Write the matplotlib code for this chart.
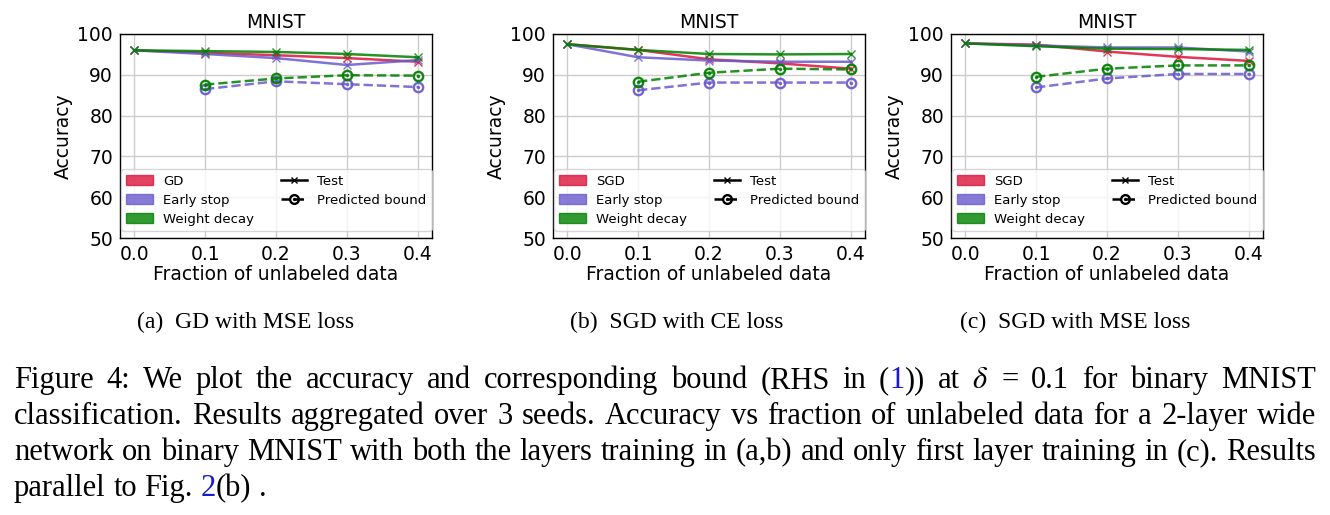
import re
import matplotlib
matplotlib.use('Agg')
import matplotlib.pyplot as plt
from matplotlib.patches import Patch
from matplotlib.lines import Line2D

# Accuracy vs fraction of unlabeled data, binary MNIST, three training setups

fractions = [0.0, 0.1, 0.2, 0.3, 0.4]
bound_fractions = [0.1, 0.2, 0.3, 0.4]

# (a) GD with MSE loss
a_gd_test = [96.0, 95.4, 94.8, 94.1, 93.2]
a_es_test = [96.0, 95.1, 94.1, 92.4, 93.6]
a_wd_test = [96.0, 95.8, 95.6, 95.1, 94.3]
a_es_bound = [86.5, 88.4, 87.7, 87.0]
a_wd_bound = [87.6, 89.1, 89.9, 89.8]

# (b) SGD with CE loss
b_sgd_test = [97.5, 96.1, 93.8, 92.8, 91.5]
b_es_test = [97.5, 94.3, 93.5, 93.2, 93.2]
b_wd_test = [97.5, 96.1, 95.1, 95.0, 95.1]
b_es_bound = [86.2, 88.1, 88.1, 88.1]
b_wd_bound = [88.3, 90.5, 91.5, 91.3]

# (c) SGD with MSE loss
c_sgd_test = [97.7, 97.4, 95.7, 94.4, 93.4]
c_es_test = [97.7, 97.2, 96.7, 96.7, 95.7]
c_wd_test = [97.7, 97.0, 96.4, 96.3, 96.1]
c_es_bound = [86.9, 89.1, 90.2, 90.2]
c_wd_bound = [89.5, 91.5, 92.3, 92.3]

first_names = ['GD', 'SGD', 'SGD']
subcaptions = ['(a)  GD with MSE loss', '(b)  SGD with CE loss', '(c)  SGD with MSE loss']
yticks = [50, 60, 70, 80, 90, 100]
xticks = [0.0, 0.1, 0.2, 0.3, 0.4]

# caption lines, {..} marks a blue reference link
caption = [
    'Figure 4: We plot the accuracy and corresponding bound (RHS in ({1})) at $\\delta$ = 0.1 for binary MNIST',
    'classification. Results aggregated over 3 seeds. Accuracy vs fraction of unlabeled data for a 2-layer wide',
    'network on binary MNIST with both the layers training in (a,b) and only first layer training in (c). Results',
    'parallel to Fig. {2}(b) .',
]

RED = '#dc143c'
PURPLE = '#6a5acd'
GREEN = '#008000'
W, H = 1330, 515


def main():
    plt.rcParams['mathtext.fontset'] = 'stix'
    fig = plt.figure(figsize=(W / 100, H / 100), dpi=100)
    panels = [
        (120, a_gd_test, a_es_test, a_wd_test, a_es_bound, a_wd_bound),
        (553, b_sgd_test, b_es_test, b_wd_test, b_es_bound, b_wd_bound),
        (951, c_sgd_test, c_es_test, c_wd_test, c_es_bound, c_wd_bound),
    ]
    for k, p in enumerate(panels):
        ax = fig.add_axes([p[0] / W, (H - 238) / H, 312 / W, 204 / H])
        makepanel(ax, first_names[k], *p[1:])
    for x, s in zip([246, 677, 1075], subcaptions):
        fig.text(x / W, 1 - 328 / H, s, ha='center', va='baseline',
                 fontsize=17, family='Liberation Serif')
    ys = [388, 424, 460, 496]
    for k, line in enumerate(caption):
        drawline(fig, ys[k], line, 14, 1316, k < 3)
    fig.savefig('out.png', dpi=100)


def makepanel(ax, name, red, purple, green, purple_b, green_b):
    ax.plot(fractions, red, '-', marker='x', color=RED, lw=1.8, ms=6, alpha=0.85)
    ax.plot(fractions, purple, '-', marker='x', color=PURPLE, lw=1.8, ms=6, alpha=0.85)
    ax.plot(fractions, green, '-', marker='x', color=GREEN, lw=1.8, ms=6, alpha=0.85)
    ax.plot(bound_fractions, purple_b, '--', marker='$\\odot$', color=PURPLE, lw=1.8, ms=7.5, alpha=0.85)
    ax.plot(bound_fractions, green_b, '--', marker='$\\odot$', color=GREEN, lw=1.8, ms=7.5, alpha=0.85)
    ax.set_ylim(50, 100)
    ax.set_yticks(yticks)
    ax.set_xticks(xticks)
    ax.set_xticklabels(['%.1f' % v for v in xticks])
    ax.grid(True, color='#cccccc', lw=1)
    ax.set_axisbelow(True)
    ax.tick_params(length=0, pad=5, labelsize=13.5)
    for s in ax.spines.values():
        s.set_color('black')
        s.set_linewidth(1)
    ax.set_title('MNIST', fontsize=13.5, pad=4)
    ax.set_xlabel('Fraction of unlabeled data', fontsize=13.5, labelpad=1)
    ax.set_ylabel('Accuracy', fontsize=13.5, labelpad=3)
    handles = [
        Patch(facecolor=RED, edgecolor=RED, alpha=0.8, label=name),
        Patch(facecolor=PURPLE, edgecolor=PURPLE, alpha=0.8, label='Early stop'),
        Patch(facecolor=GREEN, edgecolor=GREEN, alpha=0.8, label='Weight decay'),
        Line2D([], [], color='black', ls='-', marker='x', ms=5, lw=1.8, label='Test'),
        Line2D([], [], color='black', ls='--', marker='$\\odot$', ms=7, lw=1.8, label='Predicted bound'),
    ]
    ax.legend(handles=handles, ncol=2, loc='lower right', bbox_to_anchor=(1.0, 0.035),
              borderaxespad=0, fontsize=9.5, labelspacing=0.45, columnspacing=2.0,
              framealpha=0.8, fancybox=True)


def drawline(fig, y, line, x0, x1, justify):
    # place words one by one so the line fills x0..x1 like justified TeX text
    r = fig.canvas.get_renderer()
    size = 22
    words = []
    for word in line.split(' '):
        parts = []
        for piece in re.split(r'(\{[^}]*\})', word):
            if piece == '':
                continue
            color = 'black'
            if piece.startswith('{'):
                piece = piece[1:-1]
                color = '#1a1ad0'
            t = fig.text(0, 1 - y / H, piece, color=color, fontsize=size,
                         family='Liberation Serif', va='baseline')
            parts.append((t, t.get_window_extent(r).width))
        words.append(parts)
    total = sum(w for parts in words for t, w in parts)
    if justify:
        gap = (x1 - x0 - total) / (len(words) - 1)
    else:
        gap = 0.25 * size * 100 / 72
    x = x0
    for parts in words:
        for t, w in parts:
            t.set_x(x / W)
            x += w
        x += gap


main()
